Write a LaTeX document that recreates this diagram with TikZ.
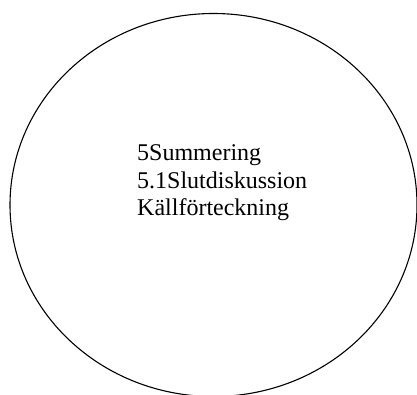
\documentclass[tikz,border=0pt]{standalone}
\usepackage{fontspec}
\setmainfont{Liberation Serif}
\usetikzlibrary{shapes.geometric}
\begin{document}
\begin{tikzpicture}[x=1pt,y=1pt,
  outline/.style={draw=black,line width=1.1pt},
  label/.style={anchor=base west,inner sep=0pt,font=\fontsize{24}{27.5}\selectfont}]
\useasboundingbox (0,0) rectangle (417,394);
\clip (0,0) rectangle (417,394);
\node[outline,ellipse,minimum width=407pt,minimum height=383pt,inner sep=0pt] (oval) at (213.5,189) {};
\node[label] (l1) at (137,233.3) {5Summering};
\node[label] (l2) at (137,206) {5.1Slutdiskussion};
\node[label] (l3) at (137,178.7) {Källförteckning};
\end{tikzpicture}
\end{document}
